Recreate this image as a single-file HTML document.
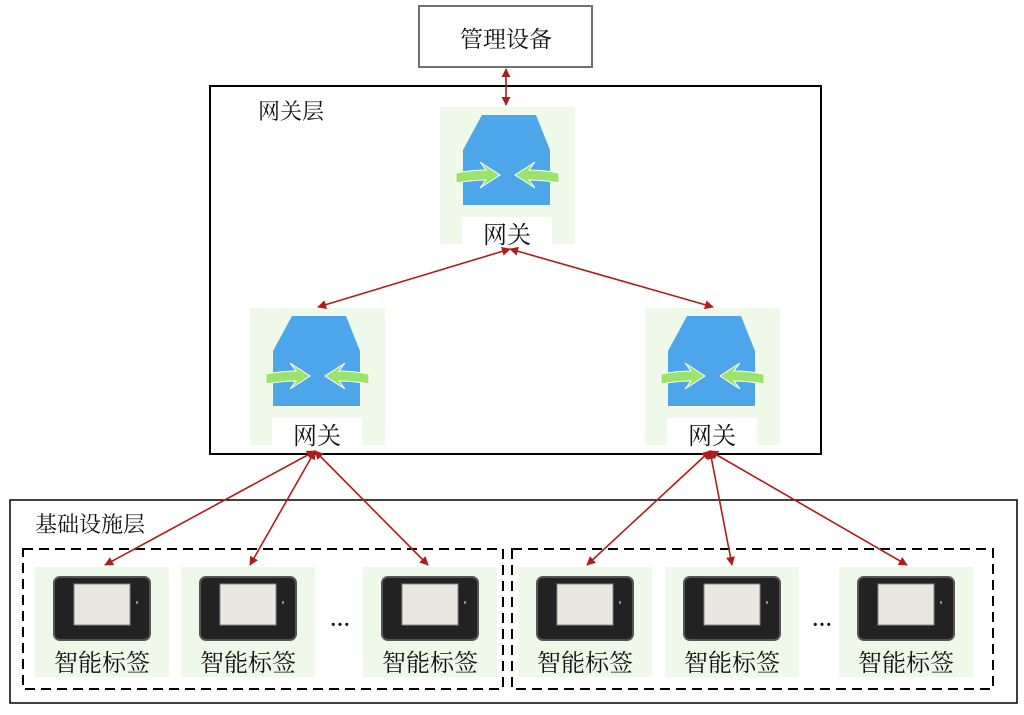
<!DOCTYPE html>
<html><head><meta charset="utf-8"><style>
body{margin:0;background:#fff;width:1024px;height:710px;overflow:hidden}
text{font-family:"Liberation Serif","Noto Serif CJK SC",serif;fill:#111}
</style></head><body>
<svg width="1024" height="710" viewBox="0 0 1024 710" xmlns="http://www.w3.org/2000/svg">
<defs>
<marker id="a" viewBox="0 0 10 10" refX="9" refY="5" markerWidth="9" markerHeight="9" orient="auto-start-reverse" markerUnits="userSpaceOnUse"><path d="M0,0L10,5L0,10z" fill="#b01c1c"/></marker>
<g id="gw">
<rect x="0" y="0" width="135" height="137" fill="#eef9ea"/>
<path d="M42,8L96,8L110,43L23,43Z" fill="#4ea6ea"/>
<rect x="23" y="43" width="87" height="55" fill="#4ea6ea"/>
<path d="M16,66Q32,63 46,63L40,55L60,68L40,81L46,73Q32,73 16,76Z" fill="#9be36a" stroke="#fff" stroke-width="1"/>
<path d="M119,66Q103,63 89,63L95,55L75,68L95,81L89,73Q103,73 119,76Z" fill="#9be36a" stroke="#fff" stroke-width="1"/>
<rect x="22" y="110" width="90" height="27" fill="#fff"/>
<text x="67" y="136" font-size="24" text-anchor="middle">网关</text>
</g>
<g id="tag">
<rect x="-67" y="0" width="134" height="110" fill="#eef9ea"/>
<rect x="-48" y="10" width="96" height="63" rx="6" fill="#222" stroke="#555" stroke-width="2"/>
<rect x="-28" y="17" width="56" height="41" fill="#e9e9e2" stroke="#888"/>
<rect x="34" y="34" width="2" height="3" fill="#888"/>
<text x="0" y="104" font-size="24" text-anchor="middle">智能标签</text>
</g>
</defs>
<rect x="419" y="6" width="173" height="61" fill="#fff" stroke="#6b7270" stroke-width="2"/>
<text x="506" y="47" font-size="23" text-anchor="middle">管理设备</text>
<rect x="210" y="86" width="611" height="368" fill="#fff" stroke="#000" stroke-width="2"/>
<text x="258" y="119" font-size="22">网关层</text>
<use href="#gw" x="440" y="107"/>
<use href="#gw" x="250" y="308"/>
<use href="#gw" x="645" y="308"/>
<rect x="10" y="500" width="1007" height="203" fill="none" stroke="#000" stroke-width="1.5"/>
<text x="35" y="532" font-size="22">基础设施层</text>
<rect x="23" y="549" width="480" height="140" fill="none" stroke="#000" stroke-width="2" stroke-dasharray="10,6"/>
<rect x="512" y="549" width="481" height="140" fill="none" stroke="#000" stroke-width="2" stroke-dasharray="10,6"/>
<use href="#tag" x="102" y="567"/>
<use href="#tag" x="248" y="567"/>
<use href="#tag" x="430" y="567"/>
<use href="#tag" x="585" y="567"/>
<use href="#tag" x="732" y="567"/>
<use href="#tag" x="906" y="567"/>
<text x="340" y="626" font-size="20" text-anchor="middle" font-weight="bold">…</text>
<text x="822" y="626" font-size="20" text-anchor="middle" font-weight="bold">…</text>
<g stroke="#b01c1c" stroke-width="1.6" fill="none" marker-start="url(#a)" marker-end="url(#a)">
<line x1="506" y1="69" x2="506" y2="105"/>
<line x1="510" y1="249" x2="318" y2="307"/>
<line x1="510" y1="249" x2="713" y2="307"/>
<line x1="315" y1="451" x2="105" y2="565"/>
<line x1="315" y1="451" x2="250" y2="565"/>
<line x1="315" y1="451" x2="428" y2="565"/>
<line x1="710" y1="451" x2="587" y2="565"/>
<line x1="710" y1="451" x2="732" y2="565"/>
<line x1="710" y1="451" x2="907" y2="565"/>
</g>
</svg>
</body></html>
